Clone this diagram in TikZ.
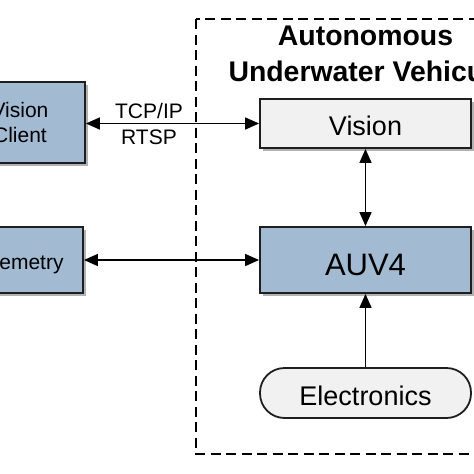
\documentclass[tikz,border=0pt]{standalone}
\usepackage{fontspec}
\setmainfont{Liberation Sans}
\usetikzlibrary{arrows.meta,shadows}
\definecolor{boxblue}{HTML}{A2BAD2}
\definecolor{boxgrey}{HTML}{F1F1F1}
\definecolor{edge}{HTML}{1E1E1E}
\begin{document}
\begin{tikzpicture}[x=1pt,y=-1pt,
  box/.style={draw=edge,line width=1.8pt,inner sep=0pt,align=center},
  bluebox/.style={box,fill=boxblue},
  greybox/.style={box,fill=boxgrey},
  softshadow/.style={drop shadow={shadow xshift=2.5pt,shadow yshift=-2.5pt,opacity=0.3,fill=black}},
  tip/.tip={Triangle[length=14pt,width=12pt]},
  link/.style={line width=1.5pt,tip-tip},
  onelink/.style={line width=1.5pt,-tip},
  frame/.style={line width=1.6pt,dash pattern=on 10pt off 5.5pt},
  small/.style={font=\fontsize{21}{25}\selectfont},
  mid/.style={font=\fontsize{27}{30}\selectfont},
  big/.style={font=\fontsize{31}{34}\selectfont},
  titlefont/.style={font=\bfseries\fontsize{28.4}{32}\selectfont}
]
\useasboundingbox (0,0) rectangle (474,474);
\clip (0,0) rectangle (474,474);
\fill[white] (0,0) rectangle (474,474);

% dashed frame of the vehicle
\draw[frame] (196,19) rectangle (530,454);

% title
\node[titlefont] (title1) at (365.5,36) {Autonomous};
\node[titlefont,anchor=west] (title2) at (225,71) {Underwater Vehicule};

% left boxes
\node[bluebox,softshadow,small,minimum width=130pt,minimum height=81pt] (client) at (20,122.5) {Vision\\Client};
\node[bluebox,softshadow,small,minimum width=130pt,minimum height=66pt,text height=18pt,text depth=0pt] (tele) at (18,260) {Telemetry};

% right boxes
\node[greybox,softshadow,mid,minimum width=211pt,minimum height=49pt,text height=24.4pt,text depth=0pt] (vision) at (365.5,123.5) {Vision};
\node[bluebox,softshadow,big,minimum width=211pt,minimum height=66pt,text height=30.3pt,text depth=0pt] (auv) at (365.5,260) {AUV4};
\node[greybox,mid,minimum width=211pt,minimum height=50pt,rounded corners=24.5pt,text height=25.4pt,text depth=0pt] (elec) at (365.5,393) {Electronics};

% connectors
\draw[link] (vision.west) -- (client.east |- vision.west);
\node[small] (tcp) at (149,110.5) {TCP/IP};
\node[small] (rtsp) at (149,137.5) {RTSP};
\draw[link] (tele.east) -- (auv.west);
\draw[link] (vision.south) -- (auv.north);
\draw[onelink] (elec.north) -- (auv.south);
\end{tikzpicture}
\end{document}
